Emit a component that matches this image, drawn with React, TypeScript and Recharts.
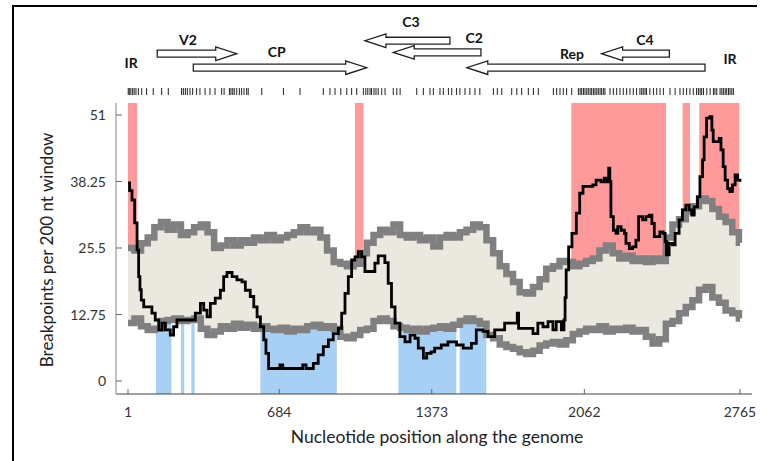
import React from "react";
import {
  ComposedChart,
  Area,
  Line,
  XAxis,
  YAxis,
  ReferenceArea,
  ReferenceLine,
  ReferenceDot,
  Label,
} from "recharts";

// axis ticks
const xTicks = [1, 684, 1373, 2062, 2765];
const yTicks = [0, 12.75, 25.5, 38.25, 51];

// 95% envelope of simulated breakpoint counts (200 nt windows)
const envPos = [
  1, 30, 60, 90, 120, 150, 180, 210, 240, 270, 300, 330, 360, 390, 420, 450, 480, 510, 540, 570,
  600, 630, 660, 690, 720, 750, 780, 810, 840, 870, 900, 930, 960, 990, 1020, 1050, 1080, 1110,
  1140, 1170, 1200, 1230, 1260, 1290, 1320, 1350, 1380, 1410, 1440, 1470, 1500, 1530, 1560, 1590,
  1620, 1650, 1680, 1710, 1740, 1770, 1800, 1830, 1860, 1890, 1920, 1950, 1980, 2010, 2040, 2070,
  2100, 2130, 2160, 2190, 2220, 2250, 2280, 2310, 2340, 2370, 2400, 2430, 2460, 2490, 2520, 2550,
  2580, 2610, 2640, 2670, 2700, 2730, 2760, 2765,
];
const upperLimit = [
  25.5, 25.0, 26.4, 27.5, 29.5, 30.5, 29.0, 30.0, 28.0, 28.5, 29.5, 30.0, 28.5, 25.5, 26.0, 27.0,
  26.0, 27.0, 26.5, 27.5, 27.0, 28.0, 27.0, 27.5, 28.0, 28.5, 29.5, 28.5, 29.0, 27.5, 25.0, 22.8,
  22.5, 22.0, 22.5, 24.5, 26.5, 28.0, 29.0, 28.5, 30.0, 28.0, 27.5, 28.0, 27.0, 27.5, 25.8, 27.5,
  28.0, 27.5, 28.5, 29.0, 30.0, 29.5, 27.0, 24.5, 22.0, 20.5, 19.0, 17.0, 16.8, 18.0, 19.5, 21.5,
  22.0, 23.0, 22.8, 22.0, 22.5, 23.0, 23.5, 25.0, 26.0, 24.5, 23.5, 24.0, 23.0, 23.5, 22.8, 23.5,
  23.0, 27.5, 30.0, 31.0, 32.5, 33.5, 35.0, 34.5, 33.0, 31.5, 30.5, 28.5, 26.5, 26.5,
];
const lowerLimit = [
  11.1, 12.0, 10.5, 9.8, 10.0, 11.5, 11.7, 12.0, 11.5, 11.7, 12.0, 10.0, 8.8, 9.5, 10.5, 10.0,
  11.0, 10.2, 10.8, 10.0, 10.5, 10.0, 9.8, 10.2, 9.5, 10.0, 9.8, 10.5, 10.8, 10.2, 10.5, 10.0,
  8.5, 8.2, 8.8, 9.8, 10.0, 11.5, 12.0, 11.5, 10.5, 10.2, 9.8, 10.0, 9.5, 10.0, 10.2, 10.5,
  10.0, 10.8, 11.5, 12.0, 11.5, 11.0, 8.8, 8.2, 7.0, 6.5, 6.2, 5.5, 5.2, 5.8, 6.8, 7.2,
  7.5, 7.0, 7.8, 9.0, 9.5, 10.0, 9.8, 10.5, 9.5, 10.0, 9.8, 10.2, 9.5, 9.8, 8.5, 7.2,
  8.0, 11.0, 11.5, 13.0, 14.2, 15.5, 17.5, 18.0, 16.0, 15.0, 13.5, 13.0, 12.0, 12.0,
];

// observed breakpoints per window
const obsPos = [
  1, 8, 19, 31, 42, 49, 55, 61, 72, 109, 124, 140, 155, 170, 192, 207, 222, 305, 328, 343, 358,
  373, 395, 418, 433, 448, 471, 493, 516, 531, 553, 569, 584, 599, 614, 624, 636, 687, 700, 790,
  805, 838, 860, 883, 906, 928, 951, 966, 981, 996, 1011, 1026, 1041, 1056, 1071, 1116, 1131,
  1161, 1176, 1191, 1207, 1229, 1252, 1275, 1297, 1312, 1335, 1350, 1370, 1386, 1416, 1446, 1485,
  1515, 1552, 1574, 1604, 1627, 1657, 1702, 1759, 1765, 1830, 1852, 1875, 1898, 1920, 1935, 1958,
  1970, 1975, 1980, 1991, 2006, 2026, 2041, 2056, 2100, 2115, 2137, 2152, 2165, 2172, 2177, 2182,
  2193, 2205, 2213, 2228, 2243, 2250, 2265, 2280, 2295, 2307, 2325, 2340, 2355, 2367, 2378, 2403,
  2418, 2427, 2433, 2445, 2460, 2472, 2490, 2505, 2520, 2535, 2547, 2558, 2573, 2584, 2596, 2603,
  2614, 2629, 2638, 2644, 2671, 2679, 2689, 2698, 2709, 2719, 2731, 2743, 2754, 2765,
];
const obsCount = [
  38.0, 36.5, 34.7, 30.3, 25.1, 20.0, 17.5, 15.5, 14.2, 13.0, 11.7, 9.8, 11.1, 9.8, 8.8, 10.4,
  11.7, 13.0, 14.9, 13.6, 12.3, 14.9, 15.9, 17.4, 20.0, 20.8, 20.0, 19.4, 19.0, 17.4, 16.2, 14.2,
  12.3, 10.4, 7.9, 5.3, 2.4, 3.1, 2.4, 3.1, 2.4, 3.4, 5.0, 6.6, 7.9, 9.1, 10.1, 13.0, 16.8, 20.0,
  23.2, 23.8, 24.8, 23.8, 21.0, 22.6, 24.0, 22.7, 18.7, 14.2, 11.1, 8.5, 7.5, 8.8, 8.2, 6.3, 4.4,
  5.3, 5.6, 6.3, 6.9, 7.5, 6.9, 6.3, 7.2, 9.8, 9.5, 8.5, 9.8, 11.1, 13.0, 10.1, 9.1, 11.1, 10.4,
  11.4, 9.8, 11.4, 9.8, 11.7, 16.0, 21.3, 25.7, 28.3, 32.2, 36.0, 37.3, 37.6, 38.5, 38.2, 38.9,
  38.2, 40.8, 38.2, 31.5, 28.9, 28.3, 29.6, 28.9, 28.3, 26.4, 25.4, 25.7, 27.0, 31.5, 30.9, 31.5,
  31.8, 30.2, 27.7, 28.6, 28.3, 26.7, 24.2, 26.4, 26.1, 28.3, 30.9, 32.8, 33.7, 32.8, 31.8, 33.4,
  35.3, 39.2, 42.4, 46.8, 50.4, 50.7, 48.1, 45.9, 46.5, 44.3, 41.1, 38.5, 36.9, 36.3, 37.6, 39.5,
  38.5, 38.2,
];

// recombination hot / cold spots [start, end]
const hotSpots = [
  [1, 42],
  [1026, 1064],
  [2003, 2431],
  [2506, 2539],
  [2581, 2762],
];
const coldSpots = [
  [127, 197],
  [240, 255],
  [287, 302],
  [599, 944],
  [1222, 1484],
  [1499, 1619],
];

// genome map
const genes = [
  { name: "V2", start: 133, end: 492, strand: 1 },
  { name: "CP", start: 296, end: 1079, strand: 1 },
  { name: "C3", start: 1071, end: 1455, strand: -1 },
  { name: "C2", start: 1199, end: 1595, strand: -1 },
  { name: "Rep", start: 1531, end: 2607, strand: -1 },
  { name: "C4", start: 2140, end: 2446, strand: -1 },
];
const geneRow: Record<string, number> = { V2: 62.75, CP: 60.07, C3: 65.24, C2: 63.0, Rep: 60.07, C4: 62.75 };
const mapLabels = [
  { text: "IR", pos: 15, row: 60.97 },
  { text: "V2", pos: 272, row: 65.38 },
  { text: "CP", pos: 673, row: 63.13 },
  { text: "C3", pos: 1279, row: 68.83 },
  { text: "C2", pos: 1564, row: 65.76 },
  { text: "Rep", pos: 2006, row: 62.69 },
  { text: "C4", pos: 2336, row: 65.38 },
  { text: "IR", pos: 2720, row: 61.73 },
];

// detected breakpoint sites
const breakpointSites = [
  2, 7, 14, 22, 29, 37, 48, 63, 85, 115, 153, 183, 243, 251, 260, 269, 281, 293, 311, 326, 349,
  371, 394, 424, 435, 459, 466, 474, 481, 492, 504, 514, 525, 537, 544, 605, 703, 778, 883, 913,
  936, 962, 989, 1011, 1034, 1064, 1075, 1084, 1094, 1101, 1112, 1121, 1131, 1147, 1162, 1199,
  1215, 1230, 1305, 1335, 1365, 1380, 1410, 1425, 1448, 1463, 1485, 1500, 1523, 1545, 1568, 1590,
  1651, 1669, 1689, 1734, 1757, 1779, 1809, 1832, 1854, 1922, 1937, 1952, 1967, 1982, 2005, 2035,
  2043, 2050, 2058, 2065, 2073, 2080, 2088, 2095, 2103, 2110, 2118, 2125, 2133, 2140, 2148, 2155,
  2178, 2193, 2208, 2223, 2238, 2253, 2268, 2283, 2298, 2313, 2321, 2328, 2336, 2343, 2358, 2374,
  2389, 2404, 2419, 2449, 2472, 2494, 2509, 2524, 2539, 2554, 2569, 2577, 2585, 2592, 2600, 2615,
  2630, 2645, 2652, 2660, 2675, 2683, 2690, 2698, 2705, 2713, 2720, 2728, 2735,
];

const envData = envPos.map((n, i) => ({
  n,
  hi: upperLimit[i],
  lo: lowerLimit[i],
  band: [lowerLimit[i], upperLimit[i]],
}));
const obsData = obsPos.map((n, i) => ({ n, v: obsCount[i] }));

const FONT = "Lato, 'Liberation Sans', sans-serif";

function XTick(props: any) {
  const { x, y, payload } = props;
  return (
    <g>
      <line x1={x} x2={x} y1={y} y2={y - 5} stroke="#666" />
      <text x={x} y={y + 23} textAnchor="middle" fontSize={14} fill="#333" fontFamily={FONT}>
        {payload.value}
      </text>
    </g>
  );
}

function YTick(props: any) {
  const { x, y, payload } = props;
  return (
    <g>
      <line x1={x} x2={x + 6} y1={y} y2={y} stroke="#666" />
      <text x={x - 10} y={y + 5} textAnchor="end" fontSize={14} fill="#333" fontFamily={FONT}>
        {payload.value}
      </text>
    </g>
  );
}

function geneArrow(strand: number) {
  return (p: any) => {
    const { x, y, width, height } = p;
    const head = 21;
    const bulge = 3.3;
    const mid = y + height / 2;
    let pts: number[][];
    if (strand > 0) {
      const bx = x + width - head;
      pts = [[x, y], [bx, y], [bx, y - bulge], [x + width, mid], [bx, y + height + bulge], [bx, y + height], [x, y + height]];
    } else {
      const bx = x + head;
      pts = [[x + width, y], [bx, y], [bx, y - bulge], [x, mid], [bx, y + height + bulge], [bx, y + height], [x + width, y + height]];
    }
    return (
      <polygon
        points={pts.map((q) => q.join(",")).join(" ")}
        fill="#fff"
        stroke="#222"
        strokeWidth={1.3}
      />
    );
  };
}

function mapText(text: string) {
  return (p: any) => (
    <text
      x={p.cx}
      y={p.cy}
      dy="0.35em"
      textAnchor="middle"
      fontSize={14}
      fontWeight="bold"
      fill="#111"
      fontFamily={FONT}
    >
      {text}
    </text>
  );
}

export default function App() {
  return (
    <div style={{ position: "absolute", left: 0, top: 0, width: 768, height: 461, background: "#fff" }}>
      <div
        style={{
          position: "absolute",
          left: 12,
          top: 5,
          width: 743,
          height: 470,
          borderTop: "2px solid #000",
          borderLeft: "2px solid #000",
        }}
      />
      <ComposedChart
        width={768}
        height={461}
        margin={{ top: 103, right: 16, bottom: 37, left: 0 }}
        style={{ position: "absolute", left: 0, top: 0 }}
      >
        <XAxis
          dataKey="n"
          type="number"
          domain={[-53.2, 2819.2]}
          ticks={xTicks}
          height={30}
          tickSize={0}
          tickMargin={0}
          tick={<XTick />}
          axisLine={{ stroke: "#444", strokeWidth: 1.2 }}
          tickLine={false}
          interval={0}
        >
          <Label
            content={() => (
              <text x={437} y={443} textAnchor="middle" fontSize={17.5} fill="#222" fontFamily={FONT}>
                Nucleotide position along the genome
              </text>
            )}
          />
        </XAxis>
        <YAxis
          type="number"
          domain={[-2.49, 53.3]}
          ticks={yTicks}
          width={116}
          tickSize={0}
          tickMargin={0}
          tick={<YTick />}
          axisLine={{ stroke: "#999", strokeWidth: 1.2 }}
          tickLine={false}
          interval={0}
        >
          <Label
            content={() => (
              <text
                x={47}
                y={250}
                transform="rotate(-90 47 250)"
                dy="0.35em"
                textAnchor="middle"
                fontSize={17}
                fill="#222"
                fontFamily={FONT}
              >
                Breakpoints per 200 nt window
              </text>
            )}
          />
        </YAxis>

        {hotSpots.map(([a, b], i) => (
          <ReferenceArea key={"h" + i} x1={a} x2={b} y1={18} y2={53.3} fill="#FF9A9A" fillOpacity={1} stroke="none" ifOverflow="visible" />
        ))}
        {coldSpots.map(([a, b], i) => (
          <ReferenceArea key={"c" + i} x1={a} x2={b} y1={-2.49} y2={11} fill="#A8CFF4" fillOpacity={1} stroke="none" ifOverflow="visible" />
        ))}

        <Area
          data={envData}
          dataKey="band"
          type="stepAfter"
          fill="#EBE9DF"
          fillOpacity={1}
          stroke="none"
          isAnimationActive={false}
        />
        <Line data={envData} dataKey="hi" type="stepAfter" stroke="#808080" strokeWidth={6.5} dot={false} isAnimationActive={false} />
        <Line data={envData} dataKey="lo" type="stepAfter" stroke="#808080" strokeWidth={6.5} dot={false} isAnimationActive={false} />
        <Line data={obsData} dataKey="v" type="stepAfter" stroke="#000" strokeWidth={2.8} dot={false} isAnimationActive={false} />

        {breakpointSites.map((s, i) => (
          <ReferenceLine
            key={"b" + i}
            segment={[{ x: s, y: 54.83 }, { x: s, y: 56.17 }]}
            stroke="#222"
            strokeWidth={1}
            ifOverflow="visible"
          />
        ))}
        {genes.map((g) => (
          <ReferenceArea
            key={g.name}
            x1={g.start}
            x2={g.end}
            y1={geneRow[g.name] - 0.67}
            y2={geneRow[g.name] + 0.67}
            ifOverflow="visible"
            shape={geneArrow(g.strand)}
          />
        ))}
        {mapLabels.map((l, i) => (
          <ReferenceDot key={"l" + i} x={l.pos} y={l.row} r={0} ifOverflow="visible" shape={mapText(l.text)} />
        ))}
      </ComposedChart>
    </div>
  );
}
